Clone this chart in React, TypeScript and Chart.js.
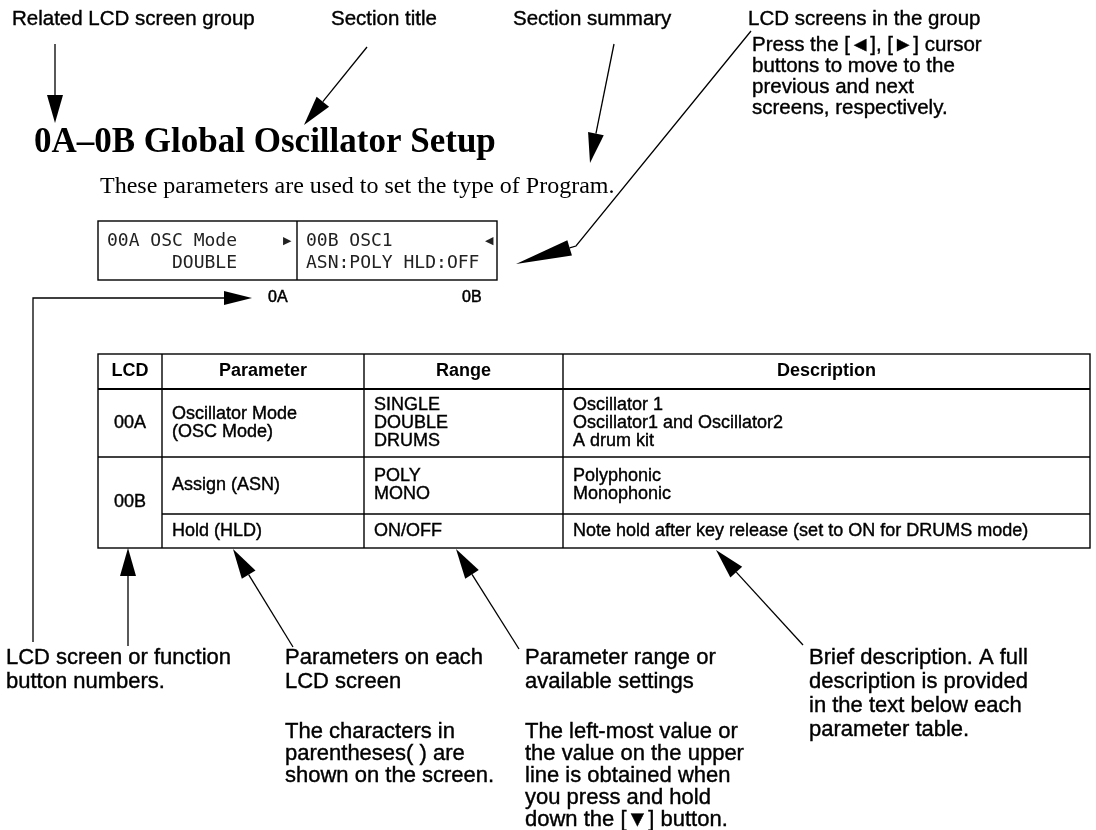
import React, { useEffect, useRef } from "react";
import { Chart, registerables } from "chart.js";
Chart.register(...registerables);

const W = 1096;
const H = 830;

// ---------- content ----------
const topLabels = ["Related LCD screen group", "Section title", "Section summary", "LCD screens in the group"];
const cursorNote = ["Press the [\u25C4], [\u25BA] cursor", "buttons to move to the", "previous and next", "screens, respectively."];
const sectionTitle = "0A\u20130B Global Oscillator Setup";
const sectionSummary = "These parameters are used to set the type of Program.";
const lcdTopLines = ["00A OSC Mode", "00B OSC1"];
const lcdCursors = ["\u25B6", "\u25C0"];
const lcdBottomLines = ["DOUBLE", "ASN:POLY HLD:OFF"];
const screenIds = ["0A", "0B"];
const tableHeader = ["LCD", "Parameter", "Range", "Description"];
const lcdIds = ["00A", "00B"];
const paramNames = [["Oscillator Mode", "(OSC Mode)"], ["Assign (ASN)"], ["Hold (HLD)"]];
const paramRanges = [["SINGLE", "DOUBLE", "DRUMS"], ["POLY", "MONO"], ["ON/OFF"]];
const paramDescriptions = [
  ["Oscillator 1", "Oscillator1 and Oscillator2", "A drum kit"],
  ["Polyphonic", "Monophonic"],
  ["Note hold after key release (set to ON for DRUMS mode)"],
];
const noteHeads = [
  ["LCD screen or function", "button numbers."],
  ["Parameters on each", "LCD screen"],
  ["Parameter range or", "available settings"],
  ["Brief description. A full", "description is provided", "in the text below each", "parameter table."],
];
const noteBodies = [
  [],
  ["The characters in", "parentheses( ) are", "shown on the screen."],
  ["The left-most value or", "the value on the upper", "line is obtained when", "you press and hold", "down the [\u25BC] button."],
  [],
];

// ---------- layout ----------
const SANS = '"Liberation Sans", Arial, Helvetica, "DejaVu Sans", sans-serif';
const SERIF = '"Liberation Serif", "Times New Roman", "DejaVu Serif", serif';
const MONO = '"DejaVu Sans Mono", "Liberation Mono", monospace';

const L = {
  labelX: [12, 331, 513, 748],
  labelY: 25,
  labelSize: 20.5,
  noteX: 752,
  noteY: [51, 72, 93, 114],
  titleX: 34,
  titleY: 152,
  titleSize: 35,
  summaryX: 100,
  summaryY: 193,
  summarySize: 24,
  lcd: { left: 98, mid: 297, right: 497, top: 221, bottom: 280, row1: 241, row2: 263, size: 18, pad: 9, curX: [283, 485] },
  idY: 298,
  idX: [268, 462],
  idSize: 16,
  tcols: [98, 162, 364, 563, 1090],
  trows: { top: 354, head: 389, r1: 457, r2: 514, bottom: 548 },
  tsize: 18,
  tline: 18,
  tpad: 10,
  noteColX: [6, 285, 525, 809],
  noteHeadY: 664,
  noteStep: 24,
  noteBodyY: 738,
  noteBodyStep: 22,
  bottomSize: 22,
};

type Arrow = { pts: number[][]; len: number; half: number };
const arrows: Arrow[] = [
  { pts: [[55, 44], [55, 123]], len: 28, half: 8 },
  { pts: [[367, 47], [304, 125]], len: 30, half: 8 },
  { pts: [[614, 44], [590, 163]], len: 30, half: 8 },
  { pts: [[751, 31], [576, 246], [516, 264]], len: 56, half: 8 },
  { pts: [[33, 642], [33, L.idY], [252, L.idY]], len: 28, half: 7 },
  { pts: [[128, 646], [128, 548]], len: 28, half: 8 },
  { pts: [[293, 647], [233, 549]], len: 30, half: 8 },
  { pts: [[519, 649], [456, 549]], len: 30, half: 8 },
  { pts: [[803, 645], [716, 550]], len: 30, half: 8 },
];

function headGeom(a: Arrow) {
  const n = a.pts.length;
  const [tx, ty] = a.pts[n - 1];
  const [px, py] = a.pts[n - 2];
  const dx = tx - px, dy = ty - py;
  const d = Math.hypot(dx, dy) || 1;
  const ux = dx / d, uy = dy / d;
  const bx = tx - ux * a.len, by = ty - uy * a.len;
  return { tx, ty, bx, by, nx: -uy, ny: ux };
}

const shaftDatasets = arrows.map((a) => {
  const g = headGeom(a);
  const pts = a.pts.slice(0, -1).map(([x, y]) => ({ x, y }));
  pts.push({ x: g.bx, y: g.by });
  return {
    type: "line" as const,
    data: pts,
    borderColor: "#000",
    borderWidth: 1.3,
    pointRadius: 0,
    fill: false,
    tension: 0,
    clip: false as any,
  };
});

const diagramPlugin = {
  id: "diagram",
  afterDraw(chart: any) {
    const ctx: CanvasRenderingContext2D = chart.ctx;
    const X = (v: number) => chart.scales.x.getPixelForValue(v);
    const Y = (v: number) => chart.scales.y.getPixelForValue(v);
    ctx.save();
    ctx.fillStyle = "#000";
    ctx.strokeStyle = "#000";

    const text = (s: string, x: number, y: number, font: string, align: CanvasTextAlign = "left", base: CanvasTextBaseline = "alphabetic", heavy = 0) => {
      ctx.font = font;
      ctx.textAlign = align;
      ctx.textBaseline = base;
      ctx.fillText(s, X(x), Y(y));
      if (heavy > 0) {
        ctx.lineWidth = heavy;
        ctx.strokeText(s, X(x), Y(y));
      }
    };
    const line = (x1: number, y1: number, x2: number, y2: number, w = 1.3) => {
      ctx.lineWidth = w;
      ctx.beginPath();
      ctx.moveTo(X(x1), Y(y1));
      ctx.lineTo(X(x2), Y(y2));
      ctx.stroke();
    };

    // arrow heads
    arrows.forEach((a) => {
      const g = headGeom(a);
      ctx.beginPath();
      ctx.moveTo(X(g.tx), Y(g.ty));
      ctx.lineTo(X(g.bx + g.nx * a.half), Y(g.by + g.ny * a.half));
      ctx.lineTo(X(g.bx - g.nx * a.half), Y(g.by - g.ny * a.half));
      ctx.closePath();
      ctx.fill();
    });

    // top labels
    const lf = `${L.labelSize}px ${SANS}`;
    topLabels.forEach((s, i) => text(s, L.labelX[i], L.labelY, lf, "left", "alphabetic", 0.4));
    cursorNote.forEach((s, i) => text(s, L.noteX, L.noteY[i], lf, "left", "alphabetic", 0.4));

    // title & summary
    text(sectionTitle, L.titleX, L.titleY, `bold ${L.titleSize}px ${SERIF}`);
    text(sectionSummary, L.summaryX, L.summaryY, `${L.summarySize}px ${SERIF}`);

    // LCD screens
    const c = L.lcd;
    ctx.lineWidth = 1.4;
    ctx.strokeRect(X(c.left), Y(c.top), X(c.right) - X(c.left), Y(c.bottom) - Y(c.top));
    line(c.mid, c.top, c.mid, c.bottom, 1.4);
    const mf = `${c.size}px ${MONO}`;
    const starts = [c.left, c.mid];
    lcdTopLines.forEach((s, i) => {
      ctx.fillStyle = "#222";
      text(s, starts[i] + c.pad, c.row1, mf, "left", "middle");
      text(lcdCursors[i], c.curX[i], c.row1, `11px ${SANS}`, "left", "middle");
      const bx = i === 0 ? starts[i] + c.pad + 6 * (c.size * 0.602) : starts[i] + c.pad;
      text(lcdBottomLines[i], bx, c.row2, mf, "left", "middle");
    });
    ctx.fillStyle = "#000";

    // screen ids
    screenIds.forEach((s, i) => text(s, L.idX[i], L.idY, `${L.idSize}px ${SANS}`, "left", "middle", 0.5));

    // table
    const tc = L.tcols, tr = L.trows;
    ctx.lineWidth = 1.4;
    ctx.strokeRect(X(tc[0]), Y(tr.top), X(tc[4]) - X(tc[0]), Y(tr.bottom) - Y(tr.top));
    for (let i = 1; i < 4; i++) line(tc[i], tr.top, tc[i], tr.bottom, 1.4);
    line(tc[0], tr.head, tc[4], tr.head, 2.2);
    line(tc[0], tr.r1, tc[4], tr.r1, 1.4);
    line(tc[1], tr.r2, tc[4], tr.r2, 1.4);
    const hf = `bold ${L.tsize}px ${SANS}`;
    const bf = `${L.tsize}px ${SANS}`;
    tableHeader.forEach((s, i) => text(s, (tc[i] + tc[i + 1]) / 2, (tr.top + tr.head) / 2, hf, "center", "middle"));
    text(lcdIds[0], (tc[0] + tc[1]) / 2, (tr.head + tr.r1) / 2, bf, "center", "middle", 0.4);
    text(lcdIds[1], (tc[0] + tc[1]) / 2, (tr.r1 + tr.bottom) / 2, bf, "center", "middle", 0.4);
    const rowBounds = [[tr.head, tr.r1], [tr.r1, tr.r2], [tr.r2, tr.bottom]];
    const block = (lines: string[], col: number, r: number) => {
      const [a, b] = rowBounds[r];
      const mid = (a + b) / 2;
      const y0 = mid - ((lines.length - 1) * L.tline) / 2;
      lines.forEach((s, k) => text(s, tc[col] + L.tpad, y0 + k * L.tline, bf, "left", "middle", 0.4));
    };
    paramNames.forEach((ls, r) => block(ls, 1, r));
    paramRanges.forEach((ls, r) => block(ls, 2, r));
    paramDescriptions.forEach((ls, r) => block(ls, 3, r));

    // bottom notes
    const nf = `${L.bottomSize}px ${SANS}`;
    noteHeads.forEach((ls, i) => ls.forEach((s, k) => text(s, L.noteColX[i], L.noteHeadY + k * L.noteStep, nf, "left", "alphabetic", 0.4)));
    noteBodies.forEach((ls, i) => ls.forEach((s, k) => text(s, L.noteColX[i], L.noteBodyY + k * L.noteBodyStep, nf, "left", "alphabetic", 0.4)));

    ctx.restore();
  },
};

export default function App() {
  const ref = useRef<HTMLCanvasElement | null>(null);
  useEffect(() => {
    document.body.style.margin = "0";
    document.body.style.background = "#fff";
    if (!ref.current) return;
    const chart = new Chart(ref.current, {
      type: "scatter",
      data: { datasets: shaftDatasets as any },
      options: {
        animation: false,
        responsive: false,
        devicePixelRatio: 1,
        layout: { padding: 0 },
        plugins: { legend: { display: false }, tooltip: { enabled: false }, title: { display: false } },
        events: [],
        scales: {
          x: { type: "linear", min: 0, max: W, display: false },
          y: { type: "linear", min: 0, max: H, reverse: true, display: false },
        },
      },
      plugins: [diagramPlugin],
    });
    return () => chart.destroy();
  }, []);
  return (
    <div style={{ width: W, height: H, background: "#fff" }}>
      <canvas ref={ref} width={W} height={H} style={{ display: "block" }} />
    </div>
  );
}
